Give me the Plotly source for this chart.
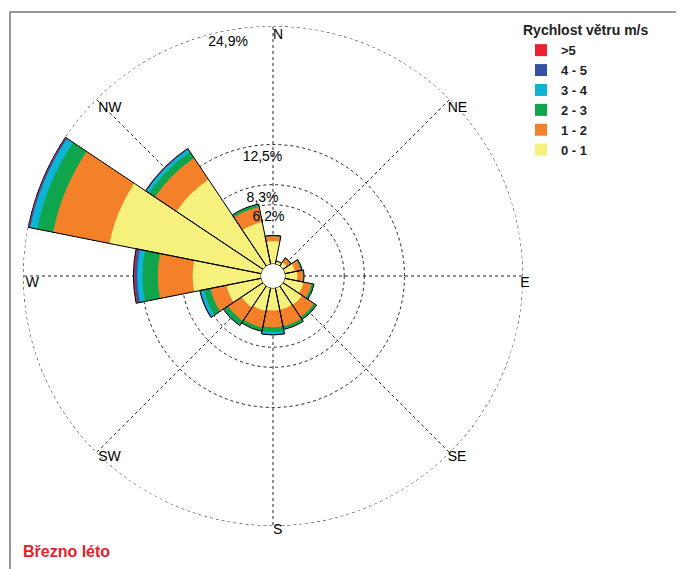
import plotly.graph_objects as go

# ---- data (percent of time) ----
directions = ["N", "NNE", "NE", "ENE", "E", "ESE", "SE", "SSE",
              "S", "SSW", "SW", "WSW", "W", "WNW", "NW", "NNW"]
angles = [0, 22.5, 45, 67.5, 90, 112.5, 135, 157.5,
          180, 202.5, 225, 247.5, 270, 292.5, 315, 337.5]

speed_labels = ["0 - 1", "1 - 2", "2 - 3", "3 - 4", "4 - 5", ">5"]
s0_1 = [2.4, 0.3, 0.5, 1.1, 1.3, 2.0, 2.4, 2.35, 2.35, 2.5, 2.7, 3.7, 7.15, 16.2, 10.9, 4.5]
s1_2 = [0.5, 0.05, 0.45, 0.6, 0.6, 0.85, 1.5, 1.75, 1.75, 1.75, 1.7, 1.7, 3.65, 6.0, 2.7, 1.6]
s2_3 = [0.1, 0.0, 0.1, 0.15, 0.1, 0.25, 0.3, 0.3, 0.5, 0.35, 0.5, 0.7, 1.6, 1.7, 0.75, 0.25]
s3_4 = [0.0, 0.0, 0.0, 0.0, 0.0, 0.02, 0.03, 0.05, 0.3, 0.05, 0.05, 0.35, 0.55, 0.75, 0.35, 0.05]
s4_5 = [0.0, 0.0, 0.0, 0.0, 0.0, 0.0, 0.0, 0.0, 0.02, 0.0, 0.05, 0.08, 0.25, 0.15, 0.05, 0.02]
s5p = [0.0, 0.0, 0.0, 0.0, 0.0, 0.0, 0.0, 0.0, 0.0, 0.0, 0.0, 0.02, 0.15, 0.1, 0.05, 0.0]

radial_ticks = [6.2, 8.3, 12.5, 24.9]
radial_tick_text = ["6,2%", "8,3%", "12,5%", "24,9%"]
dir_labels = ["N", "NE", "E", "SE", "S", "SW", "W", "NW"]
dir_label_angles = [0, 45, 90, 135, 180, 225, 270, 315]

# ---- styling / layout helpers ----
colors = ["#f6f07c", "#f4812a", "#0fa54c", "#0db4d4", "#3751a2", "#ec2230"]
tick_label_angles = [-4, -7, -4.8, -10.6]   # where radial labels sit
tick_label_inset = 0.6                       # labels sit just inside their circle
dir_label_inset = 0.3
OFF = 8          # page body margin in the browser
W, H = 684, 569
CX, CY, R = 273 - OFF, 276 - OFF, 250


def px_x(x):
    return x / W


def px_y(y):
    return 1 - y / H


series = [s0_1, s1_2, s2_3, s3_4, s4_5, s5p]

# cumulative sums for overlay drawing
cums = []
run = [0.0] * len(directions)
for s in series:
    run = [a + b for a, b in zip(run, s)]
    cums.append(run)

fig = go.Figure()

# radial tick labels (drawn under bars)
fig.add_trace(go.Scatterpolar(
    r=[t - tick_label_inset for t in radial_ticks], theta=tick_label_angles,
    mode="text", text=radial_tick_text, textposition="bottom center",
    textfont=dict(family="Liberation Sans", size=14, color="black"),
    showlegend=False, hoverinfo="skip", cliponaxis=False,
))

for i in reversed(range(len(series))):
    fig.add_trace(go.Barpolar(
        r=cums[i], theta=angles, width=[22.5] * len(angles),
        name=speed_labels[i],
        marker=dict(color=colors[i], line=dict(width=0)),
        hoverinfo="skip",
    ))

# outline of each sector
fig.add_trace(go.Barpolar(
    r=cums[-1], theta=angles, width=[22.5] * len(angles),
    marker=dict(color="rgba(0,0,0,0)", line=dict(color="black", width=1)),
    showlegend=False, hoverinfo="skip",
))

# outer dashed circle (24,9 %)
circle_theta = list(range(0, 361, 2))
fig.add_trace(go.Scatterpolar(
    r=[radial_ticks[-1]] * len(circle_theta), theta=circle_theta,
    mode="lines", line=dict(color="#222", width=1, dash="3px,3px"),
    showlegend=False, hoverinfo="skip", cliponaxis=False,
))

# compass labels
fig.add_trace(go.Scatterpolar(
    r=[radial_ticks[-1] - dir_label_inset] * len(dir_labels), theta=dir_label_angles,
    mode="text", text=dir_labels, textposition="bottom right",
    textfont=dict(family="Liberation Sans", size=14, color="black"),
    showlegend=False, hoverinfo="skip", cliponaxis=False,
))

fig.update_layout(
    width=W, height=H,
    margin=dict(l=0, r=0, t=0, b=0),
    paper_bgcolor="white",
    showlegend=True,
    legend=dict(
        x=px_x(521 - OFF), y=px_y(17 - OFF), xanchor="left", yanchor="top",
        title=dict(text="Rychlost větru m/s",
                   font=dict(family="Liberation Sans", size=14, color="#222",
                             weight="bold")),
        font=dict(family="Liberation Sans", size=13, color="#222", weight="bold"),
        tracegroupgap=0, bgcolor="rgba(0,0,0,0)",
    ),
    polar=dict(
        domain=dict(x=[px_x(CX - R), px_x(CX + R)],
                    y=[px_y(CY + R), px_y(CY - R)]),
        bgcolor="white",
        hole=0.048,
        barmode="overlay",
        angularaxis=dict(
            rotation=90, direction="clockwise",
            tickvals=dir_label_angles, showticklabels=False, ticks="",
            showgrid=True, gridcolor="#222", griddash="3px,3px", gridwidth=1,
            showline=False, layer="above traces",
        ),
        radialaxis=dict(
            range=[0, 24.9], tickvals=radial_ticks[:-1],
            showticklabels=False,
            showgrid=True, gridcolor="#222", griddash="3px,3px", gridwidth=1,
            showline=False, ticks="",
            layer="above traces",
        ),
    ),
    shapes=[dict(type="rect", xref="paper", yref="paper",
                 x0=px_x(10 - OFF), x1=1.2, y0=-0.2, y1=px_y(12 - OFF),
                 line=dict(color="#777", width=1.5))],
    annotations=[dict(text="<b>Březno léto</b>", xref="paper", yref="paper",
                      x=px_x(21 - OFF), y=px_y(551 - OFF),
                      xanchor="left", yanchor="middle", showarrow=False,
                      font=dict(family="Liberation Sans", size=16, color="#e8202a"))],
)

fig.write_html("out.html")
